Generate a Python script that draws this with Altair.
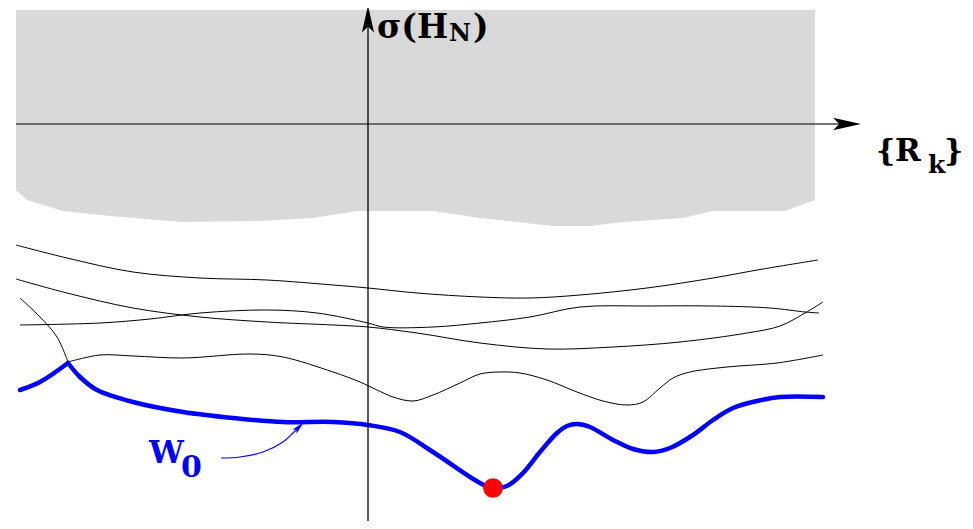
import altair as alt
import pandas as pd

# ---- data (image pixel units) ----
# shaded band: lower boundary (top edge is flat)
shade_x = [16, 27, 63, 110, 183, 260, 313, 357, 433, 480, 553, 590, 623, 683, 713, 785, 815]
shade_y = [190, 200, 211, 216, 222, 221, 218, 211, 211, 218, 226, 226, 222, 218, 211, 211, 200]
shade_top = 10

# thin black curves
a_x = [16, 67, 133, 200, 267, 333, 368, 417, 480, 530, 580, 647, 713, 763, 818]
a_y = [245, 258, 272, 278, 280, 285, 288, 293, 297, 298, 295, 288, 278, 269, 260]

b_x = [16, 67, 133, 200, 267, 333, 368, 417, 480, 547, 613, 680, 747, 780, 805, 823]
b_y = [279, 293, 308, 317, 322, 325, 327, 333, 343, 349, 347, 342, 333, 326, 313, 302]

c_x = [20, 100, 150, 200, 267, 317, 368, 383, 433, 480, 530, 580, 647, 713, 770, 805, 819]
c_y = [325, 323, 319, 313, 310, 313, 323, 327, 327, 323, 317, 307, 306, 306, 308, 312, 313]

d_x = [20, 40, 57, 68]
d_y = [298, 317, 337, 362]

e_x = [68, 100, 133, 183, 250, 283, 333, 360, 377, 393, 413, 433, 460, 480, 500, 520, 547, 577, 603,
       627, 643, 660, 673, 690, 727, 777, 823]
e_y = [362, 355, 356, 358, 354, 357, 372, 382, 390, 397, 401, 395, 383, 374, 372, 373, 380, 392, 401,
       405, 402, 388, 378, 372, 367, 363, 355]

# thick blue curve W0 (two pieces meeting at a corner)
w_left_x = [20, 40, 68]
w_left_y = [390, 382, 363]
w_right_x = [68, 80, 97, 133, 183, 233, 283, 333, 368, 400, 433, 480, 493, 507, 523, 540, 557, 567, 577,
             590, 613, 633, 653, 670, 693, 713, 733, 757, 780, 823]
w_right_y = [363, 377, 390, 402, 412, 418, 422, 422, 425, 432, 452, 483, 488, 486, 473, 452, 433, 426, 424,
             427, 440, 449, 452, 448, 435, 420, 408, 401, 397, 397]

# minimum marker
min_x = [493]
min_y = [488]

# pointer from label to curve
ptr_x = [221, 240, 263, 283, 293, 298]
ptr_y = [458, 457, 452, 442, 433, 428]

# labels
lab_text = ["σ(H", "N", ")", "{", "R", "k", "}", "W", "0"]
lab_x = [377, 449, 473, 876, 895, 928, 944, 149, 181]
lab_y = [38, 41, 38, 161, 161, 173, 161, 463, 477]
lab_size = [33, 24, 33, 30, 31, 25, 30, 31, 30]
lab_color = ["black"] * 7 + ["#0000ff"] * 2

# axes
x_axis_y = 124
x_axis_x = [16, 847]
y_axis_x = 368
y_axis_y = [19, 521]

# arrowheads: x, y, angle, size, color
head_x = [847, 368, 299]
head_y = [124, 19, 427]
head_angle = [0, 270, 315]
head_size = [784, 729, 169]
head_color = ["black", "black", "#0000ff"]

# ---- build chart ----
W, H = 957, 513
xs = alt.Scale(domain=[8, 8 + W], nice=False, zero=False)
ys = alt.Scale(domain=[8, 8 + H], nice=False, zero=False, reverse=True)
X = lambda f="x": alt.X(f"{f}:Q", scale=xs, axis=None)
Y = lambda f="y": alt.Y(f"{f}:Q", scale=ys, axis=None)


def curve_df(pieces):
    rows = []
    for name, xx, yy in pieces:
        for i, (a, b) in enumerate(zip(xx, yy)):
            rows.append({"x": a, "y": b, "curve": name, "o": i})
    return pd.DataFrame(rows)


shade_df = pd.DataFrame({"x": shade_x, "y": shade_y, "top": [shade_top] * len(shade_x)})
shade = alt.Chart(shade_df).mark_area(color="#d9d9d9", opacity=1).encode(
    x=X(), y=Y(), y2="top:Q"
)

xaxis = alt.Chart(pd.DataFrame({"x": [x_axis_x[0]], "x2": [x_axis_x[1]], "y": [x_axis_y]})).mark_rule(
    color="#444444", strokeWidth=1.3
).encode(x=X(), x2="x2:Q", y=Y())
yaxis = alt.Chart(pd.DataFrame({"x": [y_axis_x], "y": [y_axis_y[0]], "y2": [y_axis_y[1]]})).mark_rule(
    color="black", strokeWidth=1.3
).encode(x=X(), y=Y(), y2="y2:Q")

thin_df = curve_df([("A", a_x, a_y), ("B", b_x, b_y), ("C", c_x, c_y), ("D", d_x, d_y), ("E", e_x, e_y)])
thin = alt.Chart(thin_df).mark_line(color="black", strokeWidth=1, interpolate="catmull-rom").encode(
    x=X(), y=Y(), detail="curve:N", order="o:Q"
)

blue_df = curve_df([("L", w_left_x, w_left_y), ("R", w_right_x, w_right_y)])
blue = alt.Chart(blue_df).mark_line(
    color="#0000ff", strokeWidth=4.5, interpolate="catmull-rom", strokeCap="round", strokeJoin="round"
).encode(x=X(), y=Y(), detail="curve:N", order="o:Q")

ptr_df = curve_df([("P", ptr_x, ptr_y)])
ptr = alt.Chart(ptr_df).mark_line(color="#0000ff", strokeWidth=1.2, interpolate="catmull-rom").encode(
    x=X(), y=Y(), order="o:Q"
)

arrow_shape = "M 1 0 L -1 -0.45 L -0.55 0 L -1 0.45 Z"
heads_df = pd.DataFrame({"x": head_x, "y": head_y, "angle": head_angle, "size": head_size, "c": head_color})
heads = alt.Chart(heads_df).mark_point(shape=arrow_shape, filled=True, opacity=1, strokeWidth=0).encode(
    x=X(), y=Y(),
    angle=alt.Angle("angle:Q", scale=None),
    size=alt.Size("size:Q", scale=None),
    color=alt.Color("c:N", scale=None),
)

dot = alt.Chart(pd.DataFrame({"x": min_x, "y": min_y})).mark_circle(color="#ff0000", size=390, opacity=1).encode(
    x=X(), y=Y()
)

lab_df = pd.DataFrame({"t": lab_text, "x": lab_x, "y": lab_y, "s": lab_size, "c": lab_color})
labels = alt.Chart(lab_df).mark_text(
    font="DejaVu Serif", fontWeight="bold", align="left", baseline="alphabetic"
).encode(
    x=X(), y=Y(), text="t:N",
    size=alt.Size("s:Q", scale=None),
    color=alt.Color("c:N", scale=None),
)

chart = alt.layer(shade, xaxis, thin, blue, ptr, dot, yaxis, heads, labels).properties(
    width=W, height=H, padding=0, autosize=alt.AutoSizeParams(type="none"), background="white"
).configure_view(stroke=None)

chart.save("out.html", embed_options={"renderer": "svg", "actions": False})
